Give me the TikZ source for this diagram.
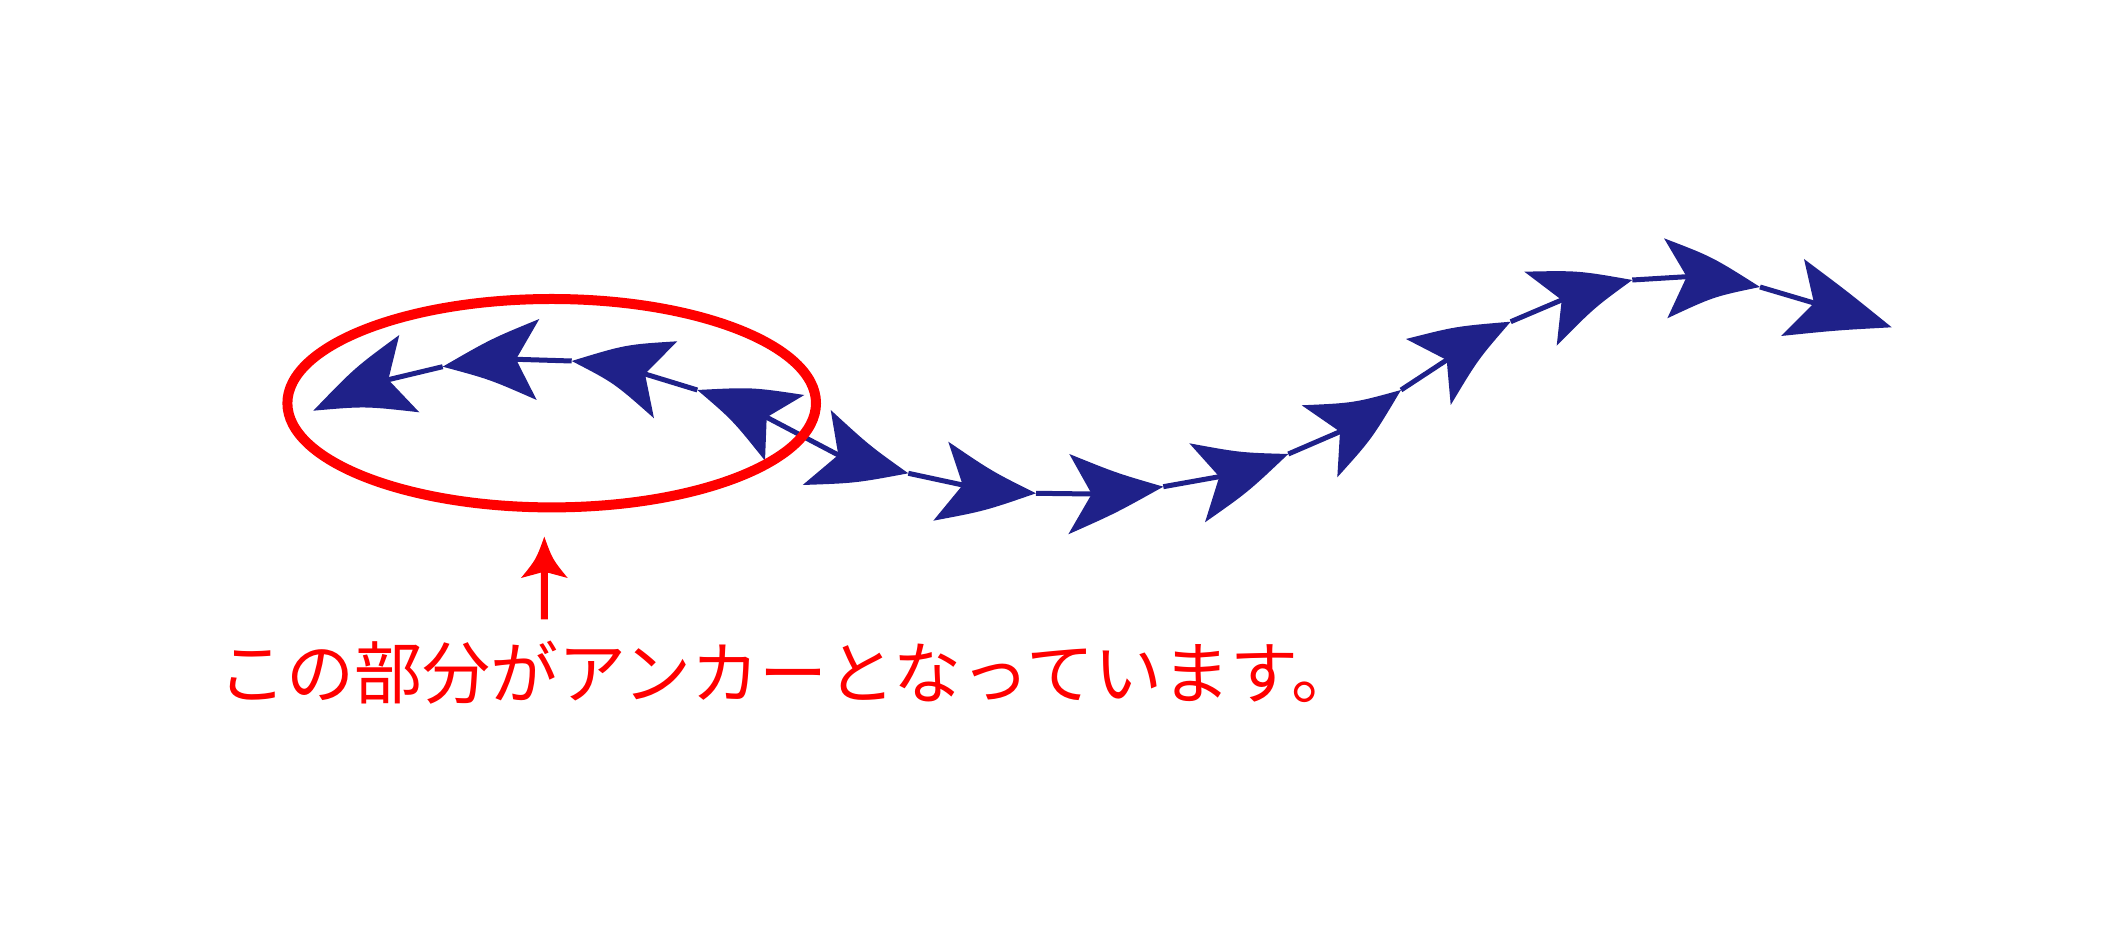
\documentclass[tikz,border=0pt]{standalone}
\usepackage{fontspec}
\newfontfamily\cjk{Noto Sans CJK JP}
\usetikzlibrary{calc}
\definecolor{chainblue}{RGB}{31,33,137}
\newcommand\chainhead[5]{%
  \fill[headfill] (#1) .. controls ($(#1)!0.5!(#2)+1.333*(#5)$) .. (#2) -- (#3) -- (#4)
     .. controls ($(#4)!0.5!(#1)+1.333*(#5)$) .. (#1) -- cycle;}
\begin{document}
\begin{tikzpicture}[x=0.5pt,y=-0.5pt,
  shaft/.style={draw=chainblue,line width=2.5pt,line join=round},
  headfill/.style={fill=chainblue},
  ring/.style={draw=red,line width=5pt},
  pointer/.style={draw=red,line width=3.5pt},
  caption/.style={anchor=west,inner sep=0pt,text=red,font=\cjk\fontsize{34pt}{40pt}\selectfont}]
\useasboundingbox (0,0) rectangle (2126,945);
% left group
\coordinate (tA) at (313.3,410.7); \coordinate (bA1) at (399.3,335);   \coordinate (nA) at (388.3,379.7); \coordinate (bA2) at (419.3,412.3);
\coordinate (tB) at (442.7,366.7); \coordinate (bB1) at (539.3,319);   \coordinate (nB) at (516,359.3);   \coordinate (bB2) at (536.7,400);
\coordinate (tC) at (571.7,361);   \coordinate (bC1) at (677.3,341.3); \coordinate (nC) at (645,374);     \coordinate (bC2) at (654,418.3);
\coordinate (tD) at (697.3,390);   \coordinate (bD1) at (804.3,395);   \coordinate (nD) at (766.7,417.3); \coordinate (bD2) at (765,460.7);
% right group
\coordinate (tE) at (908.3,473.3); \coordinate (bE1) at (830.7,410);   \coordinate (nE) at (838.3,455);   \coordinate (bE2) at (802.7,485);
\coordinate (tF) at (1036,493.3);  \coordinate (bF1) at (948.3,441.7); \coordinate (nF) at (962.7,485);   \coordinate (bF2) at (933.3,520.7);
\coordinate (tG) at (1163.3,486.7);\coordinate (bG1) at (1069.3,454);  \coordinate (nG) at (1091.7,494);  \coordinate (bG2) at (1068.3,534.3);
\coordinate (tH) at (1288.3,454);  \coordinate (bH1) at (1189.3,443.3);\coordinate (nH) at (1219.3,476.7);\coordinate (bH2) at (1205,522.3);
\coordinate (tI) at (1401,390);    \coordinate (bI1) at (1301.7,405.3);\coordinate (nI) at (1340,431.7);  \coordinate (bI2) at (1337.3,477.3);
\coordinate (tJ) at (1510.7,321.7);\coordinate (bJ1) at (1406,339);    \coordinate (nJ) at (1446.7,360);  \coordinate (bJ2) at (1450.7,405);
\coordinate (tK) at (1632.3,280);  \coordinate (bK1) at (1524.3,271.7);\coordinate (nK) at (1561.7,300);  \coordinate (bK2) at (1556.7,345.7);
\coordinate (tL) at (1760,287);    \coordinate (bL1) at (1664,238.3);  \coordinate (nL) at (1686.7,276.7);\coordinate (bL2) at (1667.3,318.3);
\coordinate (tM) at (1891.7,327.3);\coordinate (bM1) at (1804,259);    \coordinate (nM) at (1814,303);    \coordinate (bM2) at (1781,336);
% shafts
\draw[shaft] (tD) -- (nC) -- ($(nC)!0.6!(tC)$);
\draw[shaft] (tC) -- (nB) -- ($(nB)!0.6!(tB)$);
\draw[shaft] (tB) -- (nA) -- ($(nA)!0.6!(tA)$);
\draw[shaft] ($(nD)!0.6!(tD)$) -- (nD) -- (nE) -- ($(nE)!0.6!(tE)$);
\draw[shaft] (tE) -- (nF) -- ($(nF)!0.6!(tF)$);
\draw[shaft] (tF) -- (nG) -- ($(nG)!0.6!(tG)$);
\draw[shaft] (tG) -- (nH) -- ($(nH)!0.6!(tH)$);
\draw[shaft] (tH) -- (nI) -- ($(nI)!0.6!(tI)$);
\draw[shaft] (tI) -- (nJ) -- ($(nJ)!0.6!(tJ)$);
\draw[shaft] (tJ) -- (nK) -- ($(nK)!0.6!(tK)$);
\draw[shaft] (tK) -- (nL) -- ($(nL)!0.6!(tL)$);
\draw[shaft] (tL) -- (nM) -- ($(nM)!0.6!(tM)$);
% heads
\chainhead{tA}{bA1}{nA}{bA2}{-1,-4}
\chainhead{tB}{bB1}{nB}{bB2}{0,-3}
\chainhead{tC}{bC1}{nC}{bC2}{1,-5}
\chainhead{tD}{bD1}{nD}{bD2}{1,-4}
\chainhead{tE}{bE1}{nE}{bE2}{0,3}
\chainhead{tF}{bF1}{nF}{bF2}{0,3}
\chainhead{tG}{bG1}{nG}{bG2}{0,2}
\chainhead{tH}{bH1}{nH}{bH2}{1,3}
\chainhead{tI}{bI1}{nI}{bI2}{2,4}
\chainhead{tJ}{bJ1}{nJ}{bJ2}{-2,-3}
\chainhead{tK}{bK1}{nK}{bK2}{0,-4}
\chainhead{tL}{bL1}{nL}{bL2}{0,-4.5}
\chainhead{tM}{bM1}{nM}{bM2}{0,-1}
% anchor ellipse
\coordinate (ringc) at (551.7,403.2);
\draw[ring] (ringc) ellipse [x radius=132.15pt, y radius=52.1pt];
% red pointer
\coordinate (pt) at (544.3,536.7);
\coordinate (pb1) at (521,578);
\coordinate (pn) at (544.3,571.7);
\coordinate (pb2) at (567.7,578);
\coordinate (pend) at (544.3,619.3);
\draw[pointer] (pend) -- ($(pn)!0.3!(pt)$);
\fill[red] (pt) .. controls ($(pt)!0.5!(pb1)+(3.5,2)$) .. (pb1) -- (pn) -- (pb2)
   .. controls ($(pb2)!0.5!(pt)+(-3.5,2)$) .. (pt) -- cycle;
% caption
\node[caption] (label) at (218,673) {この部分がアンカーとなっています。};
\end{tikzpicture}
\end{document}
